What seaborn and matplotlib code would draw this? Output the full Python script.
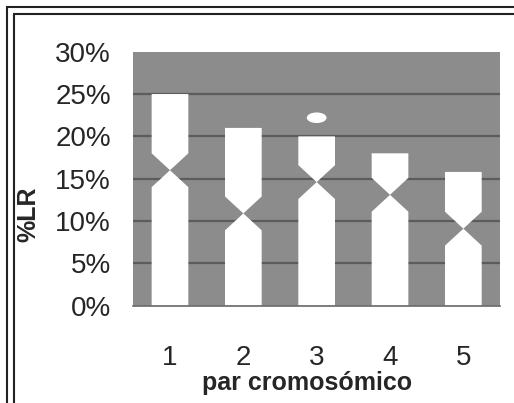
import matplotlib
matplotlib.use("Agg")
import matplotlib.pyplot as plt
import seaborn as sns
import numpy as np
from matplotlib.patches import Ellipse, Rectangle

# --- datos ---
pares = ['1', '2', '3', '4', '5']
longitud = [25.0, 21.0, 20.0, 18.0, 15.8]       # %LR total
centromero = [16.0, 10.9, 14.6, 13.1, 9.1]       # posición del centrómero
satelite_par = '3'
satelite_pos = 22.2
yticks = [0, 5, 10, 15, 20, 25, 30]

# --- estilo ---
FONDO = '#8c8c8c'
REJILLA = '#5c5c5c'
ANCHO = 0.5
MUESCA = 2.0

sns.set_style('white')
plt.rcParams['font.family'] = ['Liberation Sans', 'DejaVu Sans']
plt.rcParams['text.color'] = '#111111'

fig = plt.figure(figsize=(5.14, 4.03), dpi=100)
ax = fig.add_axes([0.2594, 0.2414, 0.7134, 0.6303])
ax.set_facecolor(FONDO)

x = np.arange(len(pares))
ax.set_xlim(-0.5, len(pares) - 0.5)
ax.set_ylim(0, 30)

# rejilla
for v in yticks[1:-1]:
    ax.axhline(v, color=REJILLA, lw=1.6, zorder=1)

# cromosomas (barra con muesca en el centrómero)
for xi, top, c in zip(x, longitud, centromero):
    l, r = xi - ANCHO / 2, xi + ANCHO / 2
    xs = [l, r, r, xi, r, r, l, l, xi, l]
    ys = [top, top, c + MUESCA, c, c - MUESCA, 0, 0, c - MUESCA, c, c + MUESCA]
    ax.fill(xs, ys, color='white', lw=0, zorder=2)

# satélite
xs_sat = pares.index(satelite_par)
ax.add_patch(Ellipse((xs_sat, satelite_pos), 0.27, 1.25, color='white', lw=0, zorder=2))

# ejes
for s in ['top', 'right', 'left']:
    ax.spines[s].set_visible(False)
ax.spines['bottom'].set_color('#6a6a6a')
ax.spines['bottom'].set_linewidth(1.2)

ax.set_yticks(yticks)
ax.set_yticklabels([f'{v}%' for v in yticks], fontsize=20)
ax.tick_params(axis='y', length=7, width=1.2, color='#6a6a6a', pad=9)

ax.set_xticks(x)
ax.set_xticklabels(pares, fontsize=20)
ax.set_xticks(np.arange(-0.5, len(pares)), minor=True)
ax.tick_params(axis='x', which='major', length=0, pad=28)
ax.tick_params(axis='x', which='minor', length=7, width=1.2, color='#6a6a6a')

ax.set_xlabel('par cromosómico', fontsize=18, fontweight='bold', va='center')
ax.xaxis.set_label_coords(0.473, -0.304)
ax.set_ylabel('%LR', fontsize=18, fontweight='bold', va='center')
ax.yaxis.set_label_coords(-0.287, 0.361)

# marco doble
W, H = 514, 403
for off in [7, 14]:
    fig.patches.append(Rectangle((off / W, -0.1), 1.2, 1.1 - off / H,
                                 transform=fig.transFigure, fill=False,
                                 ec='#222222', lw=1.5))

fig.savefig('out.png', dpi=100)
